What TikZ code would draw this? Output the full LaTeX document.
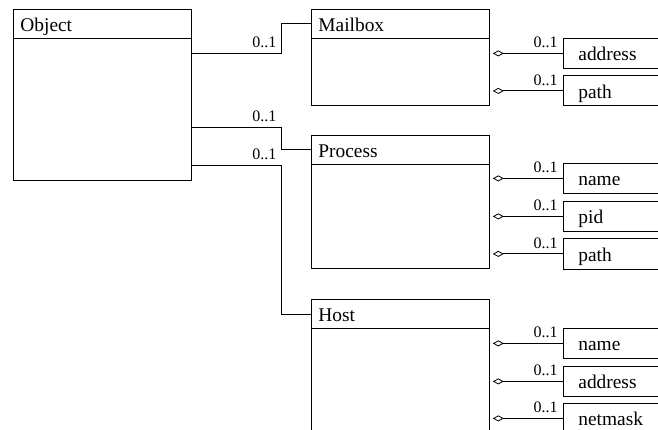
\documentclass[tikz,border=0pt]{standalone}
\usepackage{fontspec}
\setmainfont{Liberation Serif}
\usetikzlibrary{arrows.meta,calc}
\tikzset{
  classbox/.style={draw, anchor=north west, minimum width=178pt, inner sep=0pt},
  classname/.style={draw, anchor=north west, minimum height=29pt, text width=164pt,
    inner xsep=7pt, inner ysep=0pt, align=left, text height=15pt, text depth=0pt,
    font=\fontsize{19.4}{22}\selectfont},
  attrbox/.style={draw, anchor=north west, minimum height=30pt, text width=100pt,
    inner xsep=15pt, inner ysep=0pt, align=left, text height=15pt, text depth=0pt,
    font=\fontsize{19.4}{22}\selectfont},
  mult/.style={anchor=south east, inner sep=0pt, xshift=-5pt, yshift=5pt,
    font=\fontsize{16}{18}\selectfont},
  agg/.style={{Diamond[open,length=11pt,width=6pt]}-, shorten <=3pt}
}
\begin{document}
\begin{tikzpicture}[x=1pt, y=-1pt, line width=0.8pt]
        \useasboundingbox (0,0) rectangle (658,430);
        \clip (0,0) rectangle (658,430);
        \node[classbox, minimum height=171pt] (object) at (13,9) {};
        \node[classname] (objectt) at (13,9) {Object};
        \node[classbox, minimum height=96pt] (mailbox) at (311,9) {};
        \node[classname] (mailboxt) at (311,9) {Mailbox};
        \node[classbox, minimum height=133pt] (process) at (311,135) {};
        \node[classname] (processt) at (311,135) {Process};
        \node[classbox, minimum height=150pt] (host) at (311,299) {};
        \node[classname] (hostt) at (311,299) {Host};
        \coordinate (om) at ($(object.north east)+(0,44)$);
        \coordinate (op) at ($(object.north east)+(0,118)$);
        \coordinate (oh) at ($(object.north east)+(0,156)$);
        \draw (om) -- ++(90,0) node[mult]{0..1} |- (mailboxt.west);
        \draw (op) -- ++(90,0) node[mult]{0..1} |- (processt.west);
        \draw (oh) -- ++(90,0) node[mult]{0..1} |- (hostt.west);
        \node[attrbox] (mbaddress) at (563,38) {address};
        \node[attrbox] (mbpath) at (563,75.5) {path};
        \node[attrbox] (prname) at (563,163) {name};
        \node[attrbox] (prpid) at (563,201) {pid};
        \node[attrbox] (prpath) at (563,238.5) {path};
        \node[attrbox] (honame) at (563,328) {name};
        \node[attrbox] (hoaddress) at (563,366) {address};
        \node[attrbox] (honetmask) at (563,403) {netmask};
        \draw[agg] (mailbox.east |- mbaddress.west) -- (mbaddress.west) node[mult]{0..1};
        \draw[agg] (mailbox.east |- mbpath.west) -- (mbpath.west) node[mult]{0..1};
        \draw[agg] (process.east |- prname.west) -- (prname.west) node[mult]{0..1};
        \draw[agg] (process.east |- prpid.west) -- (prpid.west) node[mult]{0..1};
        \draw[agg] (process.east |- prpath.west) -- (prpath.west) node[mult]{0..1};
        \draw[agg] (host.east |- honame.west) -- (honame.west) node[mult]{0..1};
        \draw[agg] (host.east |- hoaddress.west) -- (hoaddress.west) node[mult]{0..1};
        \draw[agg] (host.east |- honetmask.west) -- (honetmask.west) node[mult]{0..1};
      \end{tikzpicture}
\end{document}
